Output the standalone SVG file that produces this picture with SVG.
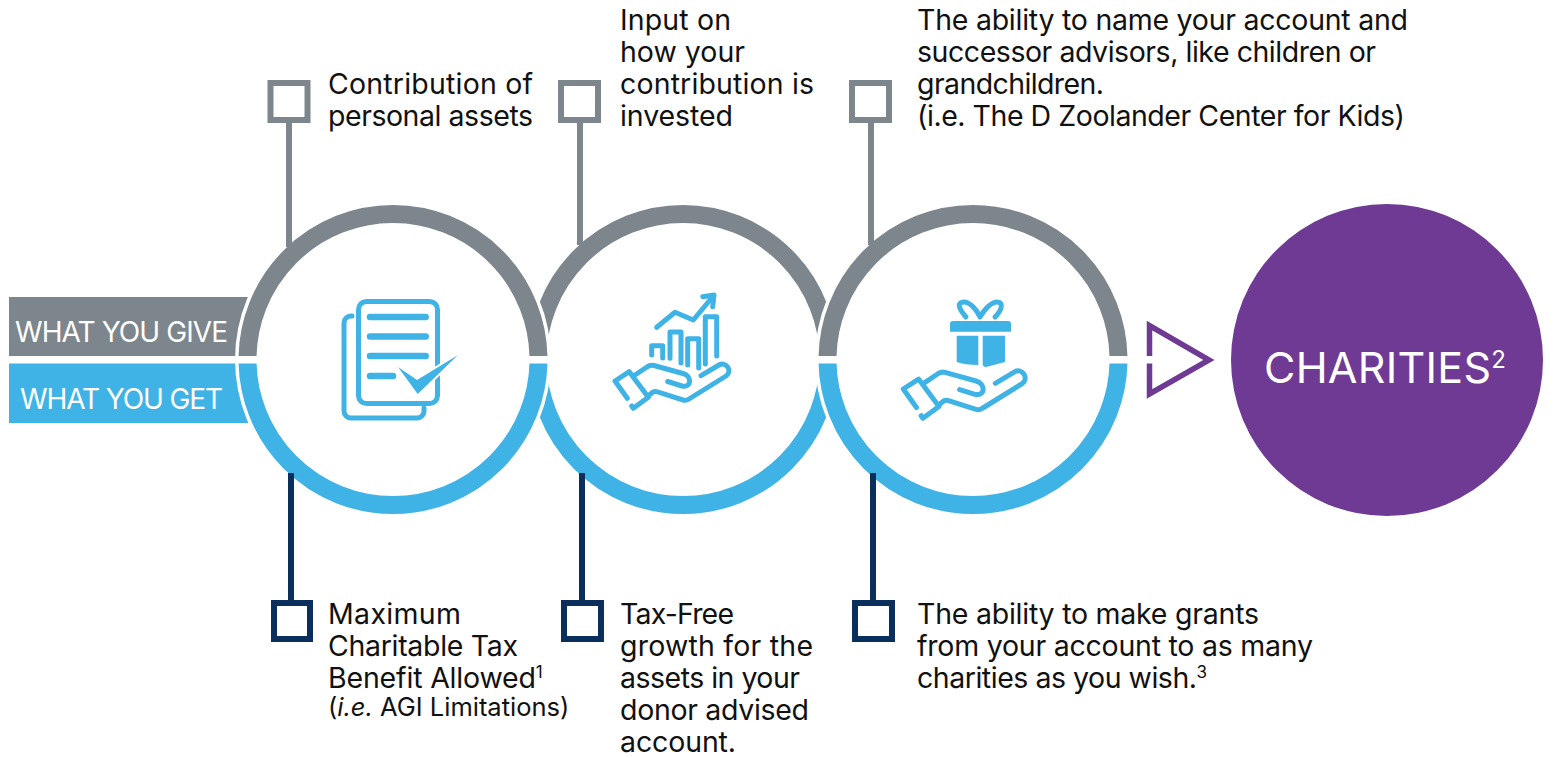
<svg xmlns="http://www.w3.org/2000/svg" width="1554" height="758" viewBox="0 0 1554 758">
<style>
text{font-family:Inter,"Noto Sans",sans-serif;font-size:28.5px;fill:#111}
.lab{fill:#fff;font-size:28px}
.sup{font-size:17px}
.small{font-size:25.5px}
.gr{fill:none;stroke:#7C868C;stroke-width:18}
.bl{fill:none;stroke:#3FB3E5;stroke-width:18}
.halo{fill:#fff}
.box1{fill:#fff;stroke:#7C868C;stroke-width:6}
.box2{fill:#fff;stroke:#0A2F5C;stroke-width:6}
.c1{stroke:#7C868C;stroke-width:6;fill:none}
.c2{stroke:#0A2F5C;stroke-width:6;fill:none}
.ic{fill:none;stroke:#3FB3E5;stroke-width:5;stroke-linecap:round;stroke-linejoin:round}
.fl{fill:#3FB3E5}
</style>
<defs>
<clipPath id="top"><rect x="0" y="0" width="1554" height="356"/></clipPath>
<clipPath id="bot"><rect x="0" y="363.5" width="1554" height="395"/></clipPath>
<g id="hand">
<path d="M627.3 398.3L615 381L629.3 371.7L648.3 397.3L633.3 408.3L631.7 406"/>
<path d="M635 375L647 367Q650 364.5 654 365.5L683 373.500C692 376 692 388 682 386L667.7 381.5"/>
<path d="M649.3 395L653 392Q655 391 658 392L683 400Q686 401 689 399L726 376C733 371 726 361 719 365L701 375.7"/>
</g>
</defs>
<g id="label-give"><rect x="9" y="297" width="270" height="59" fill="#7C868C"/><text class="lab" x="15" y="342" textLength="213">WHAT YOU GIVE</text></g>
<g id="label-get"><rect x="9" y="363.5" width="270" height="59.5" fill="#3FB3E5"/><text class="lab" x="20" y="409" textLength="203">WHAT YOU GET</text></g>
<g id="ring2"><circle class="gr" cx="683" cy="359.5" r="145.5" clip-path="url(#top)"/><circle class="bl" cx="683" cy="359.5" r="145.5" clip-path="url(#bot)"/></g>
<g id="ring1"><circle class="halo" cx="393" cy="359.5" r="158"/><circle class="gr" cx="393" cy="359.5" r="145.5" clip-path="url(#top)"/><circle class="bl" cx="393" cy="359.5" r="145.5" clip-path="url(#bot)"/></g>
<g id="ring3"><circle class="halo" cx="973" cy="359.5" r="158"/><circle class="gr" cx="973" cy="359.5" r="145.5" clip-path="url(#top)"/><circle class="bl" cx="973" cy="359.5" r="145.5" clip-path="url(#bot)"/></g>
<g id="connectors">
<path class="c1" d="M289 122V247M580 122V245M871 122V245"/>
<path class="c2" d="M291 473V601M582 473V601M873 473V601"/>
</g>
<g id="icon-document">
<path class="ic" d="M352 316H351a7 7 0 0 0-7 7V411a7 7 0 0 0 7 7H417a7 7 0 0 0 7-7V408"/>
<rect x="358.5" y="301.5" width="79" height="102" rx="8" class="ic"/>
<path class="ic" style="stroke-width:6.5" d="M370 317H425.700M370 336.500H425.700M370 356H425.700M370 376H393"/>
<path d="M398 367L417 380L458 355L417.700 394Z" class="fl" stroke="#fff" stroke-width="4" paint-order="stroke"/>
</g>
<g id="icon-growth" class="ic">
<path d="M656.700 327.300L675 312.300L693.300 320L713.300 296"/>
<path d="M702.700 296.700L714 295L712.700 306.700"/>
<path d="M651.700 355V345.700H662.700V358M670 358.300V332H681V363M687.700 365V338.700H698.700V368M705.300 364V316.700H716.700V356"/>
<use href="#hand"/>
</g>
<g id="icon-gift">
<path class="ic" d="M966 317C958 308 957 302 964 302C970 302 977 310 980 317C984 310 991 302 997 302C1004 302 1002 310 995 317"/>
<path class="fl" d="M950 331.700V324Q950 321 953 321H1008Q1011 321 1011 324V331.700Z"/>
<path class="fl" d="M956.700 335.700H978.300V365Q965 365 956.700 362Z"/>
<path class="fl" d="M982.700 335.700H1005V362L986 367Q982.700 367 982.700 364Z"/>
<g class="ic" transform="translate(903.300 389) scale(1.07) translate(-615 -381)" style="stroke-width:4.700"><use href="#hand"/></g>
</g>
<g id="arrow"><path d="M1149.500 356V325.500L1209 360L1149.500 394V363.500" fill="none" stroke="#6F3A93" stroke-width="5.500"/></g>
<g id="charities"><circle cx="1387" cy="360" r="156" fill="#6F3A93"/><text class="lab" x="1264" y="383" style="font-size:43px"><tspan textLength="227">CHARITIES</tspan><tspan style="font-size:24px" dy="-15">2</tspan></text></g>
<g id="give-1"><rect class="box1" x="270.500" y="83" width="37" height="37"/><text x="328" y="94" textLength="205">Contribution of</text><text x="328" y="126" textLength="205">personal assets</text></g>
<g id="give-2"><rect class="box1" x="561" y="83" width="37" height="37"/><text x="620" y="30" textLength="111">Input on</text><text x="620" y="62" textLength="125">how your</text><text x="620" y="94" textLength="194">contribution is</text><text x="620" y="126" textLength="113">invested</text></g>
<g id="give-3"><rect class="box1" x="852" y="83" width="37" height="37"/><text x="917" y="30" textLength="491">The ability to name your account and</text><text x="917" y="62" textLength="459">successor advisors, like children or</text><text x="917" y="94" textLength="187">grandchildren.</text><text x="917" y="126" textLength="488">(i.e. The D Zoolander Center for Kids)</text></g>
<g id="get-1"><rect class="box2" x="274" y="603" width="36" height="36"/><text x="328" y="624" textLength="133">Maximum</text><text x="328" y="656" textLength="190">Charitable Tax</text><text x="328" y="688"><tspan textLength="208">Benefit Allowed</tspan><tspan class="sup" dy="-10">1</tspan></text><text class="small" x="328" y="716">(<tspan font-style="italic">i.e.</tspan> AGI Limitations)</text></g>
<g id="get-2"><rect class="box2" x="564" y="603" width="37" height="36"/><text x="620" y="624" textLength="114">Tax-Free</text><text x="620" y="656" textLength="193">growth for the</text><text x="620" y="688" textLength="180">assets in your</text><text x="620" y="720" textLength="189">donor advised</text><text x="620" y="752" textLength="116">account.</text></g>
<g id="get-3"><rect class="box2" x="855" y="603" width="37" height="36"/><text x="917" y="624" textLength="342">The ability to make grants</text><text x="917" y="656" textLength="396">from your account to as many</text><text x="917" y="688"><tspan textLength="280">charities as you wish.</tspan><tspan class="sup" dy="-10">3</tspan></text></g>
</svg>
